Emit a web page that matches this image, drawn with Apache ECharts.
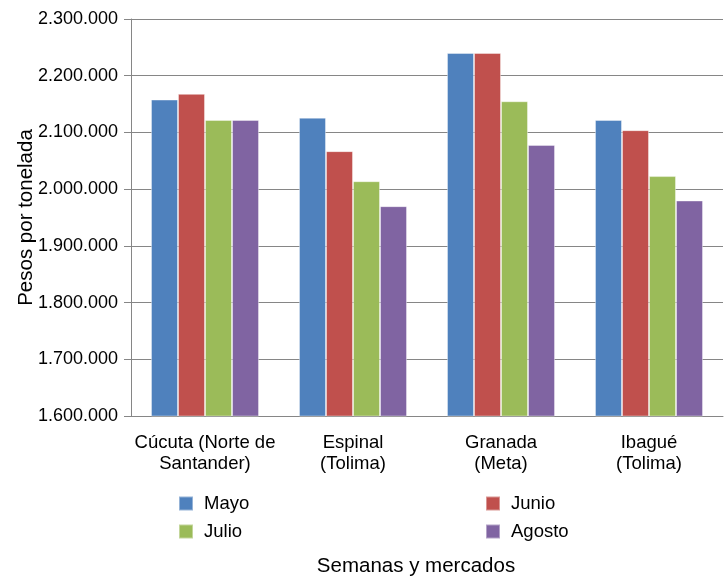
<!DOCTYPE html>
<html><head><meta charset="utf-8">
<script src="https://cdn.jsdelivr.net/npm/echarts@6/dist/echarts.min.js"></script>
<style>html,body{margin:0;padding:0;background:#fff}#c{width:725px;height:577px}</style>
</head><body><div id="c"></div>
<script>
const categories = ['Cúcuta (Norte de\nSantander)', 'Espinal\n(Tolima)', 'Granada\n(Meta)', 'Ibagué\n(Tolima)'];
const mayo   = [2158000, 2126000, 2240000, 2122000];
const junio  = [2168000, 2067000, 2240000, 2104000];
const julio  = [2122000, 2014000, 2155000, 2023000];
const agosto = [2122000, 1970000, 2078000, 1980000];
const seriesNames = ['Mayo', 'Junio', 'Julio', 'Agosto'];
const colors = ['#4F81BD', '#C0504D', '#9BBB59', '#8064A2'];

const fmt = v => String(v).replace(/\B(?=(\d{3})+(?!\d))/g, '.');
const font = 'Liberation Sans, Arial, sans-serif';
const chart = echarts.init(document.getElementById('c'));
const data = [mayo, junio, julio, agosto];
const legendText = { fontSize: 18.5, color: '#000', fontFamily: font, padding: [0, 0, 0, 6] };
chart.setOption({
  animation: false,
  textStyle: { fontFamily: font },
  grid: { left: 131, right: 2, top: 19, bottom: 161, containLabel: false, outerBoundsMode: 'none' },
  legend: [
    { data: ['Mayo', 'Julio'], orient: 'vertical', left: 178, top: 494, padding: 0, itemWidth: 14, itemHeight: 14, itemGap: 9,
      icon: 'rect', textStyle: legendText },
    { data: ['Junio', 'Agosto'], orient: 'vertical', left: 485, top: 494, padding: 0, itemWidth: 14, itemHeight: 14, itemGap: 9,
      icon: 'rect', textStyle: legendText }
  ],
  xAxis: {
    type: 'category', data: categories,
    name: 'Semanas y mercados', nameLocation: 'middle', nameGap: 140,
    nameTextStyle: { fontSize: 20.5, color: '#000', fontFamily: font, padding: [0, 22, 0, 0] },
    axisLine: { lineStyle: { color: '#868686', width: 1 } },
    axisTick: { show: false },
    axisLabel: { fontSize: 18.5, color: '#000', fontFamily: font, margin: 16, lineHeight: 21, interval: 0 }
  },
  yAxis: {
    type: 'value', min: 1600000, max: 2300000, interval: 100000,
    name: 'Pesos por tonelada', nameLocation: 'middle', nameGap: 94, nameRotate: 90, nameMoveOverlap: false,
    nameTextStyle: { fontSize: 20.5, color: '#000', fontFamily: font },
    axisLine: { show: true, lineStyle: { color: '#868686', width: 1 } },
    axisTick: { show: true, length: 7, lineStyle: { color: '#868686' } },
    splitLine: { lineStyle: { color: '#868686', width: 1 } },
    axisLabel: { fontSize: 18, color: '#000', fontFamily: font, margin: 13, formatter: fmt }
  },
  series: seriesNames.map((n, i) => ({
    name: n, type: 'bar', data: data[i], barGap: '0%', barCategoryGap: '27%',
    itemStyle: { color: colors[i], borderColor: 'rgba(255,255,255,0.4)', borderWidth: 1 }
  }))
});
</script></body></html>
